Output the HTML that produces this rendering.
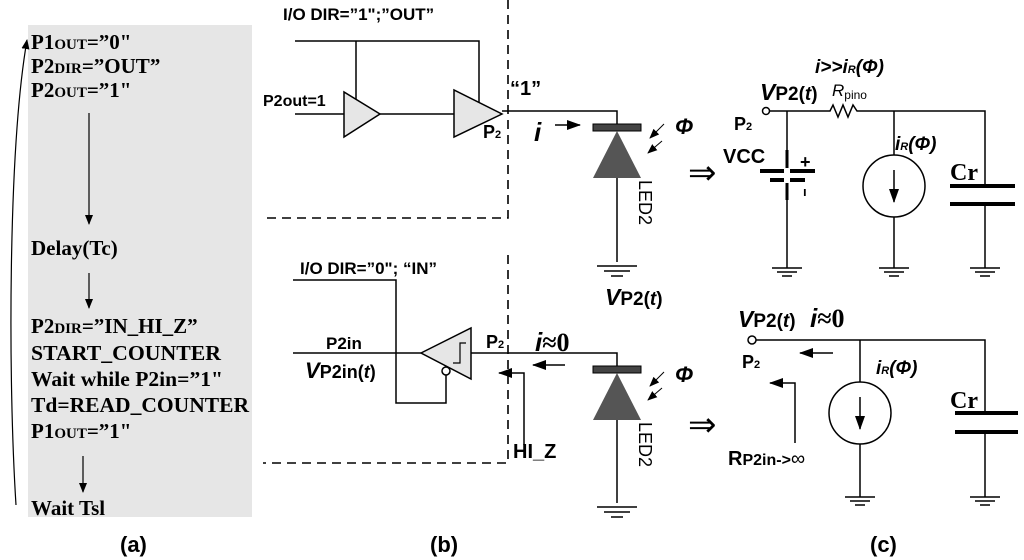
<!DOCTYPE html>
<html><head><meta charset="utf-8"><style>
body{margin:0;background:#fff;width:1024px;height:560px;overflow:hidden}
svg{display:block}
.s{font-family:"Liberation Sans",sans-serif;font-weight:bold}
.r{font-family:"Liberation Serif",serif;font-weight:bold}
</style></head><body>
<svg width="1024" height="560" viewBox="0 0 1024 560" xmlns="http://www.w3.org/2000/svg">
<defs><marker id="a" markerWidth="10" markerHeight="8" refX="9" refY="4" orient="auto" markerUnits="userSpaceOnUse"><path d="M0,0 L10,4 L0,8 z" fill="#000"/></marker>
<marker id="b" markerWidth="14" markerHeight="10" refX="13" refY="5" orient="auto" markerUnits="userSpaceOnUse"><path d="M0,0 L14,5 L0,10 z" fill="#000"/></marker></defs>
<rect x="28" y="25" width="224" height="492" fill="#e6e6e6"/>
<g class="r" font-size="21">
<text x="31" y="49">P1<tspan font-size="15">OUT</tspan>=”0"</text>
<text x="31" y="73">P2<tspan font-size="15">DIR</tspan>=”OUT”</text>
<text x="31" y="97">P2<tspan font-size="15">OUT</tspan>=”1"</text>
<text x="31" y="255">Delay(Tc)</text>
<text x="31" y="333">P2<tspan font-size="15">DIR</tspan>=”IN_HI_Z”</text>
<text x="31" y="360" textLength="190" lengthAdjust="spacingAndGlyphs">START_COUNTER</text>
<text x="31" y="386" textLength="192" lengthAdjust="spacingAndGlyphs">Wait while P2in=”1"</text>
<text x="31" y="412" textLength="218" lengthAdjust="spacingAndGlyphs">Td=READ_COUNTER</text>
<text x="31" y="438">P1<tspan font-size="15">OUT</tspan>=”1"</text>
<text x="31" y="515">Wait Tsl</text>
</g>
<g stroke="#000" stroke-width="1.2" fill="none">
<line x1="89" y1="113" x2="89" y2="224" marker-end="url(#a)"/>
<line x1="89" y1="273" x2="89" y2="308" marker-end="url(#a)"/>
<line x1="83" y1="456" x2="83" y2="492" marker-end="url(#a)"/>
<path d="M16,505 C8,380 8,150 27,40" marker-end="url(#a)"/>
</g>
<g class="s" font-size="22">
<text x="120" y="552">(a)</text>
<text x="430" y="552">(b)</text>
<text x="870" y="552">(c)</text>
</g>
<g stroke="#000" stroke-width="1.6" stroke-dasharray="9,6" fill="none">
<path d="M508,0 V218 H263"/>
<path d="M508,255 V463 H263"/>
</g>
<g stroke="#000" stroke-width="1.5" fill="none">
<path d="M295,41 H479 V105"/>
<line x1="356" y1="41" x2="356" y2="103"/>
<line x1="295" y1="114" x2="344" y2="114"/>
<line x1="380" y1="114" x2="454" y2="114"/>
<polygon points="344,92 344,137 380,114" fill="#e6e6e6"/>
<polygon points="454,90 454,137 502,114" fill="#e6e6e6"/>
<path d="M502,111 H617 V125"/>
<line x1="617" y1="178" x2="617" y2="262"/>
<path d="M293,280 H396 V403 H446 V375"/>
<line x1="293" y1="353" x2="421" y2="353"/>
<polygon points="421,353 471,328 471,379" fill="#e6e6e6"/>
<circle cx="446" cy="371" r="4" fill="#fff"/>
<path d="M453,363 H460 V343 H466" stroke-width="1.2"/>
<path d="M471,353 H617 V367"/>
<line x1="617" y1="420" x2="617" y2="503"/>
<path d="M524,445 V373 H499" marker-end="url(#b)"/>
<line x1="565" y1="365" x2="533" y2="365" marker-end="url(#b)"/>
<line x1="555" y1="125" x2="580" y2="125" marker-end="url(#b)"/>
<path d="M597,266 H637 M604,271 H630 M611,276 H623"/>
<path d="M597,507 H637 M604,512 H630 M611,517 H623"/>
<path d="M772,268 H802 M777,272 H797 M782,276 H792"/>
<path d="M879,268 H909 M884,272 H904 M889,276 H899"/>
<path d="M970,268 H1000 M975,272 H995 M980,276 H990"/>
<path d="M845,497 H875 M850,501 H870 M855,505 H865"/>
<path d="M970,497 H1000 M975,501 H995 M980,505 H990"/>
<circle cx="766" cy="111" r="3.5" fill="#fff"/>
<path d="M770,111 H830 l3,-6 l5,12 l5,-12 l5,12 l5,-12 l4,6 H985 V186"/>
<line x1="787" y1="111" x2="787" y2="268"/>
<line x1="894" y1="111" x2="894" y2="155"/>
<line x1="894" y1="217" x2="894" y2="268"/>
<circle cx="894" cy="186" r="31"/>
<line x1="894" y1="170" x2="894" y2="202" marker-end="url(#b)"/>
<line x1="985" y1="204" x2="985" y2="268"/>
<circle cx="752" cy="340" r="4" fill="#fff"/>
<path d="M756,340 H985 V413"/>
<line x1="985" y1="432" x2="985" y2="497"/>
<line x1="860" y1="340" x2="860" y2="382"/>
<line x1="860" y1="444" x2="860" y2="497"/>
<circle cx="860" cy="413" r="31"/>
<line x1="860" y1="397" x2="860" y2="429" marker-end="url(#b)"/>
<line x1="833" y1="353" x2="800" y2="353" marker-end="url(#b)"/>
<path d="M795,443 V383 H770" marker-end="url(#b)"/>
</g>
<g stroke="#000" stroke-width="4">
<line x1="760" y1="171" x2="815" y2="171"/>
<line x1="770" y1="180" x2="805" y2="180"/>
<line x1="950" y1="186" x2="1015" y2="186"/>
<line x1="950" y1="204" x2="1015" y2="204"/>
<line x1="955" y1="413" x2="1018" y2="413"/>
<line x1="955" y1="432" x2="1018" y2="432"/>
</g>
<rect x="784" y="150" width="6" height="45" fill="#fff"/>
<line x1="787" y1="150" x2="787" y2="168" stroke="#000" stroke-width="3"/>
<line x1="787" y1="183" x2="787" y2="200" stroke="#000" stroke-width="3"/>
<rect x="593" y="124" width="48" height="7" fill="#444" stroke="#000"/>
<polygon points="617,131 593,178 641,178" fill="#555"/>
<rect x="593" y="366" width="48" height="7" fill="#444" stroke="#000"/>
<polygon points="617,373 593,420 641,420" fill="#555"/>
<g stroke="#000" stroke-width="1" fill="none">
<line x1="664" y1="124" x2="650" y2="138" marker-end="url(#a)"/>
<line x1="662" y1="141" x2="648" y2="153" marker-end="url(#a)"/>
<line x1="664" y1="372" x2="650" y2="386" marker-end="url(#a)"/>
<line x1="662" y1="388" x2="648" y2="400" marker-end="url(#a)"/>
</g>
<g class="s" font-size="17">
<text x="283" y="20">I/O DIR=”1";”OUT”</text>
<text x="263" y="106" font-size="16">P2out=1</text>
<text x="483" y="138" font-size="18">P<tspan font-size="11">2</tspan></text>
<text x="510" y="95" font-size="20">“1”</text>
<text x="534" y="141" font-size="26" font-style="italic">i</text>
<text x="675" y="134" font-size="22" font-style="italic">Φ</text>
<text x="675" y="382" font-size="22" font-style="italic">Φ</text>
<text transform="translate(639,180) rotate(90)" font-size="18" font-weight="normal">LED2</text>
<text transform="translate(639,422) rotate(90)" font-size="18" font-weight="normal">LED2</text>
<text x="688" y="184" font-size="34" font-weight="normal">⇒</text>
<text x="688" y="436" font-size="34" font-weight="normal">⇒</text>
<text x="300" y="274">I/O DIR=”0"; “IN”</text>
<text x="326" y="349" font-size="17">P2in</text>
<text x="305" y="378" font-size="18"><tspan font-style="italic" font-size="22">V</tspan>P2in(<tspan font-style="italic">t</tspan>)</text>
<text x="486" y="348" font-size="18">P<tspan font-size="11">2</tspan></text>
<text x="535" y="351" font-size="26" font-style="italic">i<tspan font-style="normal" class="r">≈0</tspan></text>
<text x="513" y="458" font-size="20">HI_Z</text>
<text x="605" y="305" font-size="19"><tspan font-style="italic" font-size="23">V</tspan>P2(<tspan font-style="italic">t</tspan>)</text>
<text x="760" y="100" font-size="19"><tspan font-style="italic" font-size="23">V</tspan>P2(<tspan font-style="italic">t</tspan>)</text>
<text x="815" y="73" font-size="19" font-style="italic">i&gt;&gt;i<tspan font-size="11">R</tspan>(Φ)</text>
<text x="832" y="96" font-size="17" font-style="italic" font-weight="normal">R<tspan font-size="12" font-style="normal" dy="3">pino</tspan></text>
<text x="734" y="130" font-size="18">P<tspan font-size="11">2</tspan></text>
<text x="723" y="163" font-size="20">VCC</text>
<text x="800" y="168" font-size="18">+</text>
<text x="803" y="196" font-size="13">ı</text>
<text x="895" y="150" font-size="19" font-style="italic">i<tspan font-size="11">R</tspan>(Φ)</text>
<text x="738" y="327" font-size="19"><tspan font-style="italic" font-size="23">V</tspan>P2(<tspan font-style="italic">t</tspan>)</text>
<text x="810" y="327" font-size="26" font-style="italic">i<tspan font-style="normal" class="r">≈0</tspan></text>
<text x="742" y="368" font-size="18">P<tspan font-size="11">2</tspan></text>
<text x="876" y="374" font-size="19" font-style="italic">i<tspan font-size="11">R</tspan>(Φ)</text>
<text x="728" y="465" font-size="20">R<tspan font-size="16">P2in-&gt;</tspan><tspan font-weight="normal">∞</tspan></text>
</g>
<text x="950" y="180" class="r" font-size="24">Cr</text>
<text x="950" y="408" class="r" font-size="24">Cr</text>
</svg>
</body></html>
